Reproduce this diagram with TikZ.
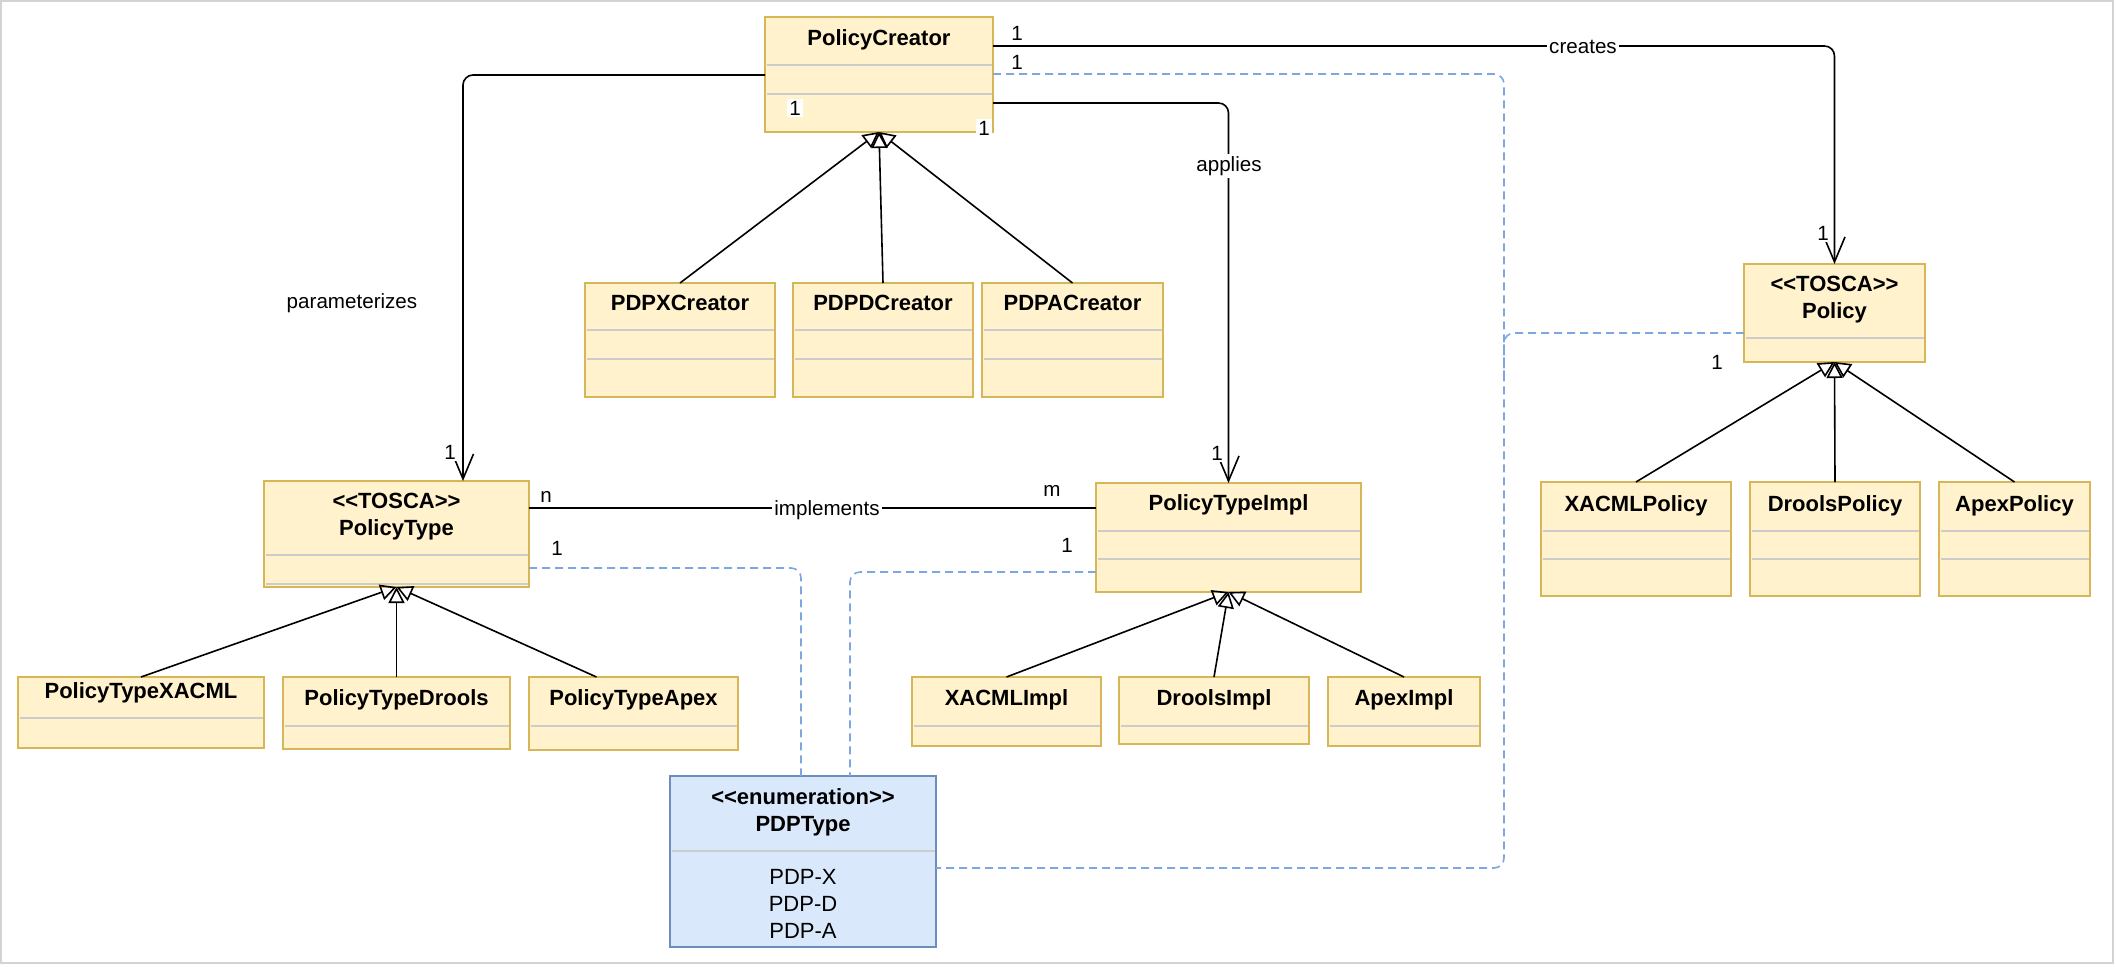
\documentclass[tikz,border=0pt]{standalone}
\usepackage{fontspec}
\setmainfont{Liberation Sans}
\usetikzlibrary{arrows.meta}

\definecolor{clsfill}{HTML}{FFF2CC}
\definecolor{clsline}{HTML}{D6B656}
\definecolor{enumfill}{HTML}{DAE8FC}
\definecolor{enumline}{HTML}{6C8EBF}
\definecolor{depline}{HTML}{7EA6E0}
\definecolor{sepgrey}{HTML}{CCCCCC}
\definecolor{framegrey}{HTML}{D3D3D3}

\tikzset{
  cls/.style={draw=clsline, fill=clsfill, line width=1pt, inner sep=0pt, outer sep=0pt},
  enum/.style={cls, draw=enumline, fill=enumfill},
  ttl/.style={font=\fontsize{11}{13.5}\selectfont\bfseries, align=center, inner sep=0pt},
  sepline/.style={draw=sepgrey, line width=1pt},
  assoc/.style={line width=0.8pt, rounded corners=5pt, -{Straight Barb[length=12.5pt,width=10.5pt]}},
  plain/.style={line width=0.8pt},
  gen/.style={line width=0.8pt, -{Triangle[open,length=8pt,width=8pt]}},
  dep/.style={draw=depline, line width=0.8pt, dash pattern=on 4pt off 2.5pt, rounded corners=5pt},
  lbl/.style={font=\fontsize{10.3}{12}\selectfont, fill=white, inner sep=1pt},
  mult/.style={lbl},
}

\newcommand\stereo[1]{\mbox{<}\mbox{<}#1\mbox{>}\mbox{>}}

% style, name, left, top, right, bottom, title y, title, separators
\newcommand\umlcls[9]{%
  \node[#1, minimum width={(#5-#3)*0.5pt}, minimum height={(#6-#4)*0.5pt}]
    (#2) at ({(#3+#5)/2},{(#4+#6)/2}) {};
  \foreach \s in {#9} \draw[sepline] ({#3+1.5},\s) -- ({#5-1.5},\s);
  \node[ttl] (#2-t) at ({(#3+#5)/2},#7) {#8};
}

\begin{document}
\begin{tikzpicture}[x=0.5pt,y=-0.5pt]
  \useasboundingbox (0,0) rectangle (2116,966);
  \draw[framegrey, line width=1pt] (1,1) rectangle (2113,963);

  % classes
  \umlcls{cls}{creator}{765}{17}{993}{132}{40}{PolicyCreator}{65,94}
  \umlcls{cls}{pdpx}{585}{283}{775}{397}{303}{PDPXCreator}{330,359}
  \umlcls{cls}{pdpd}{793}{283}{973}{397}{303}{PDPDCreator}{330,359}
  \umlcls{cls}{pdpa}{982}{283}{1163}{397}{303}{PDPACreator}{330,359}
  \umlcls{cls}{ptype}{264}{481}{529}{587}{516.5}{\stereo{TOSCA}\\PolicyType}{555,584}
  \umlcls{cls}{pimpl}{1096}{483}{1361}{592}{505}{PolicyTypeImpl}{531,559}
  \umlcls{cls}{policy}{1744}{264}{1925}{362}{299.5}{\stereo{TOSCA}\\Policy}{338}
  \umlcls{cls}{ptxacml}{18}{677}{264}{748}{693}{PolicyTypeXACML}{718}
  \umlcls{cls}{ptdrools}{283}{677}{510}{749}{700}{PolicyTypeDrools}{726}
  \umlcls{cls}{ptapex}{529}{677}{738}{750}{700}{PolicyTypeApex}{726}
  \umlcls{cls}{ximpl}{912}{677}{1101}{746}{700}{XACMLImpl}{726}
  \umlcls{cls}{dimpl}{1119}{677}{1309}{744}{700}{DroolsImpl}{726}
  \umlcls{cls}{aimpl}{1328}{677}{1480}{746}{700}{ApexImpl}{726}
  \umlcls{cls}{xpol}{1541}{482}{1731}{596}{506}{XACMLPolicy}{531,559}
  \umlcls{cls}{dpol}{1750}{482}{1920}{596}{506}{DroolsPolicy}{531,559}
  \umlcls{cls}{apol}{1939}{482}{2090}{596}{506}{ApexPolicy}{531,559}
  \umlcls{enum}{pdp}{670}{776}{936}{947}{812.5}{\stereo{enumeration}\\PDPType}{851}
  \node[font=\fontsize{11}{13.5}\selectfont, align=center, inner sep=0pt] (pdp-items)
    at (803,904) {PDP-X\\PDP-D\\PDP-A};

  % associations
  \draw[assoc] (creator.east |- 0,46) -| (policy.north); % creator->policy
  \draw[assoc] (creator.west |- 0,75) -| (ptype.north -| 463,0); % creator->ptype
  \draw[assoc] (creator.east |- 0,103) -| (pimpl.north); % creator->pimpl
  \draw[plain] (ptype.east |- 0,508) -- (pimpl.west |- 0,508); % ptype--pimpl

  % generalizations
  \foreach \c in {pdpx,pdpd,pdpa} \draw[gen] (\c.north) -- (creator.south);
  \draw[gen] (ptxacml.north) -- (ptype.south);
  \draw[gen] (ptdrools.north) -- (ptype.south);
  \draw[gen] ([xshift=-18.5pt]ptapex.north) -- (ptype.south);
  \foreach \c in {ximpl,dimpl,aimpl} \draw[gen] (\c.north) -- (pimpl.south);
  \foreach \c in {xpol,dpol,apol} \draw[gen] (\c.north) -- (policy.south);

  % links to the enumeration
  \coordinate (bus) at (1504,868);
  \draw[dep] (creator.east |- 0,74) -| (bus) -- (pdp.east |- bus);
  \draw[dep] (policy.west |- 0,333) -| (1504,380);
  \draw[dep] (ptype.east |- 0,568) -| (pdp.north -| 801,0);
  \draw[dep] (pimpl.west |- 0,572) -| (pdp.north -| 850,0);

  % labels
  \node[lbl] (l-creates) at (1583,47) {creates};
  \node[lbl] (l-applies) at (1229,166) {applies};
  \node[lbl] (l-impl) at (827,510) {implements};
  \node[lbl, fill=none] (l-param) at (352,303) {parameterizes};

  % multiplicities
  \node[mult] (m1) at (1017,33) {1};
  \node[mult] (m2) at (1017,62) {1};
  \node[mult] (m3) at (795,108) {1};
  \node[mult] (m4) at (984,128) {1};
  \node[mult] (m5) at (1823,233) {1};
  \node[mult] (m6) at (1717,362) {1};
  \node[mult] (m7) at (450,452) {1};
  \node[mult] (m8) at (1217,453) {1};
  \node[mult] (m9) at (546,497) {n};
  \node[mult] (m10) at (1052,491) {m};
  \node[mult] (m11) at (557,548) {1};
  \node[mult] (m12) at (1067,545) {1};
\end{tikzpicture}
\end{document}
